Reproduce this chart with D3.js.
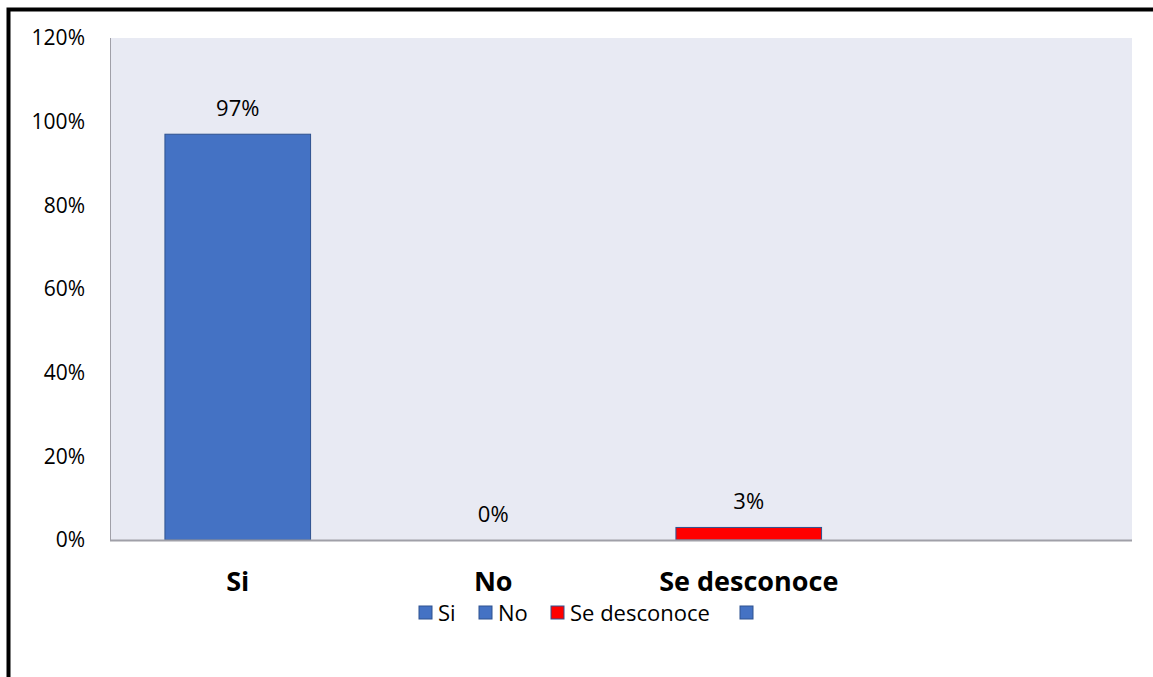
<!DOCTYPE html>
<html>
<head>
  <meta charset="utf-8">
  <title>Chart</title>
  <script src="https://cdn.jsdelivr.net/npm/d3@7"></script>
  <style type="text/css">
    body { margin: 0; background: #fff; }
    svg text { font-family: "Open Sans", "Noto Sans", sans-serif; fill: #000; }
  </style>
</head>
<body>
  <div id="chart"></div>
<script type="text/javascript">
  // data
  const categories = ['Si', 'No', 'Se desconoce', ''];
  const values = [0.97, 0, 0.03, null];
  const colors = ['#4472C4', '#4472C4', '#FF0000', '#4472C4'];
  const yTicks = [0, 0.2, 0.4, 0.6, 0.8, 1.0, 1.2];

  const width = 1153, height = 677;
  const plot = { left: 110, top: 38, right: 1132, bottom: 540 };

  const svg = d3.select('#chart').append('svg')
    .attr('width', width)
    .attr('height', height);

  // outer frame (only top and left are visible)
  svg.append('path')
    .attr('d', `M8.5,${height} V9.5 H${width}`)
    .attr('fill', 'none')
    .attr('stroke', '#000')
    .attr('stroke-width', 4);

  const x = d3.scaleBand()
    .domain(categories.map((c, i) => i))
    .range([plot.left, plot.right])
    .paddingInner(0.43)
    .paddingOuter(0.215);

  const y = d3.scaleLinear()
    .domain([0, 1.2])
    .range([plot.bottom, plot.top]);

  svg.append('rect')
    .attr('x', plot.left)
    .attr('y', plot.top)
    .attr('width', plot.right - plot.left)
    .attr('height', plot.bottom - plot.top)
    .attr('fill', '#E8EAF3');

  // y axis labels
  svg.append('g').selectAll('text').data(yTicks).enter()
    .append('text')
      .attr('x', 85)
      .attr('y', d => y(d))
      .attr('dy', '0.35em')
      .attr('text-anchor', 'end')
      .attr('font-size', 21)
      .text(d3.format('.0%'));

  // left axis line
  svg.append('line')
    .attr('x1', plot.left + 0.5).attr('x2', plot.left + 0.5)
    .attr('y1', plot.top).attr('y2', plot.bottom)
    .attr('stroke', '#A0A0A8').attr('stroke-width', 1);

  // bars
  const bars = categories.map((c, i) => ({ i, c, v: values[i], color: colors[i] }))
    .filter(d => d.v !== null);

  svg.append('g').selectAll('rect').data(bars.filter(d => d.v > 0)).enter()
    .append('rect')
      .attr('x', d => x(d.i))
      .attr('y', d => y(d.v))
      .attr('width', x.bandwidth())
      .attr('height', d => y(0) - y(d.v))
      .attr('fill', d => d.color)
      .attr('stroke', '#2F528F')
      .attr('stroke-width', 1);

  // bottom axis line
  svg.append('line')
    .attr('x1', plot.left).attr('x2', plot.right)
    .attr('y1', plot.bottom + 0.5).attr('y2', plot.bottom + 0.5)
    .attr('stroke', '#A0A0A8').attr('stroke-width', 2);

  // data labels
  svg.append('g').selectAll('text').data(bars).enter()
    .append('text')
      .attr('x', d => x(d.i) + x.bandwidth() / 2)
      .attr('y', d => y(d.v) - 18)
      .attr('text-anchor', 'middle')
      .attr('font-size', 22)
      .text(d => d3.format('.0%')(d.v));

  // category labels
  svg.append('g').selectAll('text').data(categories).enter()
    .append('text')
      .attr('x', (d, i) => x(i) + x.bandwidth() / 2)
      .attr('y', 591)
      .attr('text-anchor', 'middle')
      .attr('font-size', 27)
      .attr('font-weight', 'bold')
      .text(d => d);

  // legend
  const legendX = [419, 479, 551, 740];
  const legend = svg.append('g').selectAll('g').data(categories).enter()
    .append('g')
      .attr('transform', (d, i) => `translate(${legendX[i]},606)`);
  legend.append('rect')
    .attr('width', 13).attr('height', 13)
    .attr('fill', (d, i) => colors[i])
    .attr('stroke', '#2F528F').attr('stroke-width', 1);
  legend.append('text')
    .attr('x', 19)
    .attr('y', 7)
    .attr('dy', '0.35em')
    .attr('font-size', 22)
    .text(d => d);
</script>
</body>
</html>
